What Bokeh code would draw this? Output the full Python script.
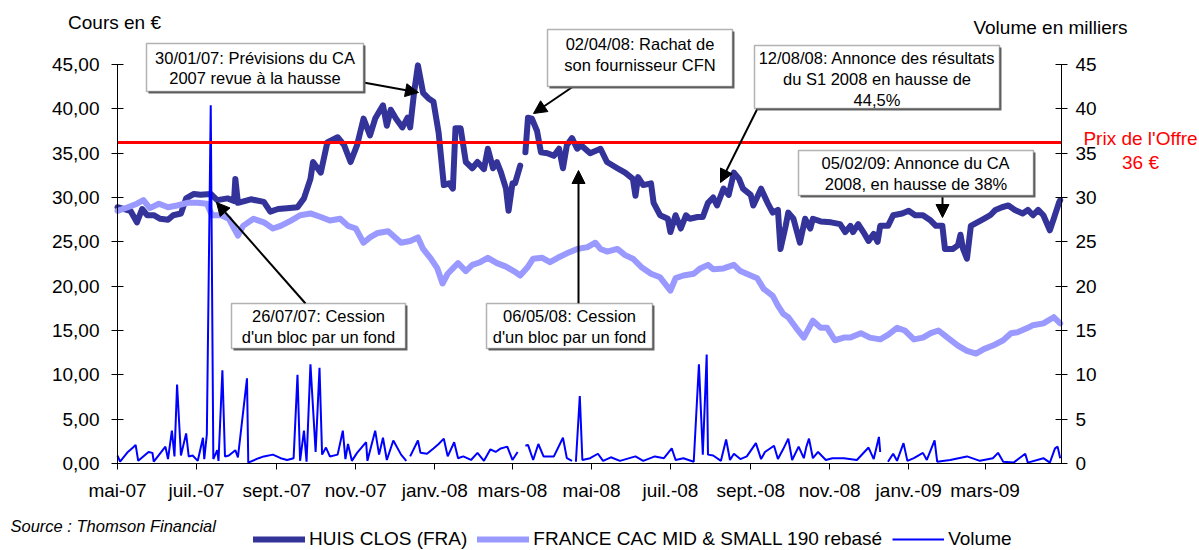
import numpy as np
import pandas as pd
from bokeh.plotting import figure
from bokeh.models import (Range1d, LinearAxis, FixedTicker, Label, BoxAnnotation,
                          Arrow, NormalHead, Legend, LegendItem, ColumnDataSource)
from bokeh.embed import file_html
from bokeh.resources import INLINE

# ---------------- data ----------------
huis_dates = ["2007-05-01","2007-05-11","2007-05-16","2007-05-20","2007-05-24","2007-05-29","2007-06-03","2007-06-09","2007-06-13","2007-06-19",
              "2007-06-23","2007-06-29","2007-07-04","2007-07-12","2007-07-17","2007-07-25","2007-07-30","2007-07-31","2007-08-02","2007-08-12",
              "2007-08-22","2007-08-27","2007-09-02","2007-09-09","2007-09-17","2007-09-22","2007-09-27","2007-09-29","2007-10-05","2007-10-10",
              "2007-10-18","2007-10-23","2007-10-28","2007-11-02","2007-11-07","2007-11-12","2007-11-16","2007-11-22","2007-11-25","2007-11-28",
              "2007-12-02","2007-12-07","2007-12-11","2007-12-13","2007-12-16","2007-12-19","2007-12-23","2007-12-27","2007-12-31","2008-01-04",
              "2008-01-08","2008-01-12","2008-01-15","2008-01-17","2008-01-21","2008-01-25","2008-01-30","2008-02-03","2008-02-08","2008-02-11",
              "2008-02-15","2008-02-18","2008-02-21","2008-02-25","2008-02-27","2008-03-01","2008-03-03","2008-03-07","2008-03-09","2008-03-11",
              "2008-03-13","2008-03-16","2008-03-20","2008-03-23","2008-03-28","2008-04-02","2008-04-06","2008-04-09","2008-04-12","2008-04-16",
              "2008-04-20","2008-04-23","2008-04-30","2008-05-08","2008-05-13","2008-05-21","2008-05-27","2008-06-02","2008-06-04","2008-06-06",
              "2008-06-10","2008-06-16","2008-06-18","2008-06-23","2008-06-29","2008-07-01","2008-07-05","2008-07-09","2008-07-13","2008-07-16",
              "2008-07-22","2008-07-26","2008-07-30","2008-08-03","2008-08-06","2008-08-11","2008-08-15","2008-08-19","2008-08-23","2008-08-26",
              "2008-09-01","2008-09-03","2008-09-09","2008-09-14","2008-09-18","2008-09-22","2008-09-24","2008-09-28","2008-09-30","2008-10-04",
              "2008-10-09","2008-10-13","2008-10-17","2008-10-19","2008-10-25","2008-11-02","2008-11-09","2008-11-13","2008-11-17","2008-11-19",
              "2008-11-23","2008-11-27","2008-12-01","2008-12-05","2008-12-08","2008-12-10","2008-12-16","2008-12-20","2008-12-27","2009-01-01",
              "2009-01-06","2009-01-12","2009-01-18","2009-01-22","2009-01-27","2009-01-29","2009-02-04","2009-02-08","2009-02-10","2009-02-12",
              "2009-02-15","2009-02-18","2009-02-23","2009-02-28","2009-03-05","2009-03-09","2009-03-14","2009-03-19","2009-03-24","2009-03-30",
              "2009-04-03","2009-04-07","2009-04-11","2009-04-15","2009-04-20","2009-04-23","2009-04-27","2009-04-28"]
huis_prices = [28.9,28.5,27.2,28.7,28.0,28.0,27.6,27.5,28.0,28.2,
               29.9,30.4,30.3,30.4,29.7,29.9,29.6,32.1,29.4,29.8,
               29.5,28.4,28.7,28.8,28.9,29.9,32.1,34.0,32.8,36.2,
               36.8,35.9,34.0,35.9,38.9,37.0,38.9,40.4,38.1,39.9,
               38.9,37.9,39.0,37.9,41.8,44.9,41.8,41.2,40.8,37.3,
               31.4,31.6,31.0,37.8,37.8,34.0,33.3,34.0,33.2,35.5,
               33.3,34.0,32.9,31.0,28.5,31.6,31.6,33.6,None,35.1,
               39.0,38.9,37.5,35.1,35.0,34.7,35.5,33.3,35.9,36.7,
               35.5,35.9,35.0,35.5,34.0,33.3,32.8,32.1,30.2,32.3,
               31.4,31.6,29.4,28.0,27.6,26.1,28.0,26.5,28.0,27.6,
               27.8,27.8,29.4,30.0,29.1,31.0,30.3,32.8,32.1,31.0,
               30.3,29.1,31.0,29.4,28.3,28.6,24.2,26.8,28.3,27.6,
               24.9,27.6,26.5,27.6,27.3,27.2,27.0,26.1,26.8,26.1,
               27.0,26.1,25.1,25.9,25.0,26.8,26.8,28.0,28.2,28.5,
               28.0,28.0,27.4,26.8,26.8,24.2,24.2,24.6,25.8,24.2,
               23.1,26.8,27.2,27.6,28.0,28.6,28.9,29.1,28.6,28.2,
               28.6,28.0,28.6,28.0,26.3,27.6,29.4,29.7]

cac_dates = ["2007-05-01","2007-05-09","2007-05-16","2007-05-21","2007-05-26","2007-06-02","2007-06-09","2007-06-16","2007-06-24","2007-07-02",
             "2007-07-09","2007-07-13","2007-07-20","2007-07-26","2007-08-02","2007-08-06","2007-08-14","2007-08-22","2007-08-29","2007-09-04",
             "2007-09-12","2007-09-19","2007-09-27","2007-10-05","2007-10-12","2007-10-20","2007-10-26","2007-11-01","2007-11-07","2007-11-12",
             "2007-11-18","2007-11-26","2007-12-06","2007-12-13","2007-12-19","2007-12-23","2007-12-29","2008-01-03","2008-01-07","2008-01-11",
             "2008-01-15","2008-01-19","2008-01-25","2008-01-30","2008-02-05","2008-02-11","2008-02-18","2008-02-25","2008-03-02","2008-03-07",
             "2008-03-13","2008-03-17","2008-03-24","2008-03-30","2008-04-05","2008-04-12","2008-04-20","2008-04-28","2008-05-04","2008-05-08",
             "2008-05-13","2008-05-21","2008-05-27","2008-06-02","2008-06-09","2008-06-16","2008-06-23","2008-07-01","2008-07-05","2008-07-11",
             "2008-07-19","2008-07-24","2008-07-30","2008-08-03","2008-08-11","2008-08-19","2008-08-24","2008-09-01","2008-09-06","2008-09-11",
             "2008-09-18","2008-09-22","2008-09-26","2008-09-30","2008-10-06","2008-10-12","2008-10-19","2008-10-25","2008-10-30","2008-11-05",
             "2008-11-12","2008-11-17","2008-11-25","2008-12-02","2008-12-10","2008-12-16","2008-12-23","2008-12-29","2009-01-05","2009-01-12",
             "2009-01-18","2009-01-24","2009-01-31","2009-02-08","2009-02-15","2009-02-22","2009-02-28","2009-03-07","2009-03-15","2009-03-21",
             "2009-03-26","2009-04-03","2009-04-07","2009-04-15","2009-04-23","2009-04-28"]
cac_values = [28.5,28.9,29.3,29.7,28.8,29.3,28.9,29.1,29.4,29.4,
              29.3,28.0,28.0,27.6,25.7,26.8,27.6,27.2,26.5,26.8,
              27.4,28.0,28.2,27.8,27.4,27.6,26.8,26.5,24.9,25.5,
              26.0,26.2,24.9,25.1,25.5,24.2,23.1,22.0,20.3,21.4,
              22.0,22.6,21.7,22.4,22.7,23.2,22.6,22.2,21.7,21.2,
              22.2,23.1,23.2,22.7,23.2,23.7,24.2,24.4,24.9,24.2,
              23.9,24.2,23.5,23.1,22.1,21.4,21.0,19.5,20.9,21.2,
              21.4,22.0,22.4,21.9,22.0,22.4,21.7,21.2,20.9,19.7,
              18.9,17.8,16.9,16.5,15.3,14.2,16.1,15.3,15.3,13.9,
              14.2,14.2,14.7,14.2,14.0,14.5,15.3,15.0,14.0,14.2,
              14.7,15.0,14.2,13.3,12.7,12.4,12.9,13.3,13.9,14.7,
              14.8,15.3,15.6,15.8,16.5,15.8]

vol_dates = ["2007-05-01","2007-05-03","2007-05-09","2007-05-13","2007-05-15","2007-05-17","2007-05-25","2007-05-28","2007-05-29","2007-06-07",
             "2007-06-09","2007-06-12","2007-06-14","2007-06-16","2007-06-19","2007-06-23","2007-06-25","2007-06-28","2007-07-02","2007-07-06",
             "2007-07-07","2007-07-09","2007-07-12","2007-07-14","2007-07-17","2007-07-18","2007-07-21","2007-07-23","2007-07-26","2007-07-31",
             "2007-08-02","2007-08-09","2007-08-10","2007-08-18","2007-08-22","2007-08-29","2007-09-04","2007-09-09","2007-09-14","2007-09-17",
             "2007-09-19","2007-09-22","2007-09-24","2007-09-27","2007-10-01","2007-10-04","2007-10-06","2007-10-09","2007-10-12","2007-10-18",
             "2007-10-22","2007-10-24","2007-10-26","2007-10-29","2007-11-02","2007-11-09","2007-11-10","2007-11-16","2007-11-19","2007-11-22",
             "2007-11-25","2007-11-30","2007-12-06","2007-12-10","2007-12-11","2007-12-13","2007-12-19","2007-12-21","2007-12-26","2007-12-31",
             "2008-01-04","2008-01-08","2008-01-11","2008-01-16","2008-01-19","2008-01-23","2008-01-29","2008-02-03","2008-02-08","2008-02-13",
             "2008-02-17","2008-02-21","2008-02-26","2008-03-01","2008-03-05","2008-03-08","2008-03-11","2008-03-13","2008-03-17","2008-03-21",
             "2008-03-25","2008-04-02","2008-04-09","2008-04-12","2008-04-16","2008-04-17","2008-04-19","2008-04-22","2008-04-24","2008-04-30",
             "2008-05-06","2008-05-10","2008-05-16","2008-05-23","2008-06-04","2008-06-10","2008-06-19","2008-06-26","2008-07-02","2008-07-05",
             "2008-07-11","2008-07-19","2008-07-23","2008-07-26","2008-07-29","2008-07-30","2008-08-03","2008-08-09","2008-08-13","2008-08-16",
             "2008-08-19","2008-08-24","2008-08-29","2008-09-05","2008-09-09","2008-09-12","2008-09-19","2008-09-22","2008-09-26","2008-09-30",
             "2008-10-03","2008-10-08","2008-10-12","2008-10-14","2008-10-16","2008-10-19","2008-10-23","2008-10-29","2008-11-03","2008-11-12",
             "2008-11-22","2008-12-01","2008-12-05","2008-12-09","2008-12-10","2008-12-12","2008-12-16","2008-12-20","2008-12-23","2008-12-28",
             "2008-12-31","2009-01-05","2009-01-12","2009-01-15","2009-01-21","2009-01-23","2009-02-02","2009-02-15","2009-02-25","2009-03-07",
             "2009-03-11","2009-03-15","2009-03-23","2009-04-01","2009-04-03","2009-04-15","2009-04-20","2009-04-24","2009-04-26","2009-04-28"]
vol_values = [0.9,0.2,1.3,1.8,2.1,0.3,1.3,1.2,0.2,1.9,
              0.5,3.7,0.8,8.9,0.9,3.4,0.8,0.9,0.3,2.9,
              0.5,3.3,40.4,0.5,1.5,0.3,10.5,0.8,0.9,1.5,
              0.7,9.6,0.1,0.6,0.8,1.0,0.6,0.4,0.6,10.0,
              0.3,3.7,0.2,11.2,1.3,10.8,1.0,1.8,0.8,1.0,
              3.7,0.5,2.2,0.3,1.2,2.4,0.3,3.7,1.0,2.9,
              0.4,2.6,1.0,0.3,None,0.8,2.6,1.2,1.1,1.7,
              2.2,2.8,0.8,2.4,0.6,0.8,0.4,1.2,0.3,1.6,
              1.3,1.7,1.9,0.4,1.3,None,2.0,2.1,0.4,2.2,
              0.8,0.8,2.9,0.6,0.3,None,0.2,7.6,0.4,0.6,
              1.1,0.3,0.7,0.3,0.8,0.3,0.8,0.6,1.7,0.4,
              0.6,0.2,11.2,1.0,12.3,1.0,0.9,0.3,2.7,0.4,
              1.1,0.5,0.8,2.3,0.5,1.3,2.0,0.5,1.6,2.8,
              0.4,1.9,0.6,1.9,2.8,0.6,1.3,0.4,0.6,0.6,
              0.4,1.8,0.5,3.0,1.3,None,0.2,1.1,0.3,2.3,
              0.3,0.6,1.2,0.4,2.6,0.2,0.4,0.8,0.3,0.6,
              1.2,0.2,0.1,1.1,0.1,0.6,0.1,1.7,1.9,0.6]

offer_price = 36.2
x_start, x_end = "2007-05-01", "2009-04-29"
x_tick_dates = ["2007-05-01","2007-07-01","2007-09-01","2007-11-01","2008-01-01","2008-03-01",
                "2008-05-01","2008-07-01","2008-09-01","2008-11-01","2009-01-01","2009-03-01"]
x_tick_labels = ["mai-07","juil.-07","sept.-07","nov.-07","janv.-08","mars-08",
                 "mai-08","juil.-08","sept.-08","nov.-08","janv.-09","mars-09"]
y_ticks = [0,5,10,15,20,25,30,35,40,45]
left_labels = ["0,00","5,00","10,00","15,00","20,00","25,00","30,00","35,00","40,00","45,00"]
right_labels = ["0","5","10","15","20","25","30","35","40","45"]

# ---------------- geometry helpers (page pixels -> data) ----------------
def ms(d):
    return pd.Timestamp(d).value // 10**6

FONT = "Liberation Sans"
W, H = 1199, 550
FL, FR, FT, FB = 117, 1061, 64, 463          # data-area edges on the page (px)
X0, X1 = ms(x_start), ms(x_end)
YMAX = 45.0

def X(px):
    return X0 + (px - FL) / (FR - FL) * (X1 - X0)

def Y(py):
    return (FB - py) / (FB - FT) * YMAX

p = figure(width=W, height=H, x_axis_type="datetime",
           x_range=Range1d(X(0), X(W)), y_range=Range1d(Y(H), Y(0)),
           output_backend="svg", toolbar_location=None)
p.min_border_left = 0
p.min_border_right = 0
p.min_border_top = 0
p.min_border_bottom = 0
p.outline_line_color = None
p.xgrid.visible = False
p.ygrid.visible = False
p.background_fill_color = "white"
p.border_fill_color = "white"

src_h = ColumnDataSource(dict(x=pd.to_datetime(huis_dates), y=np.array(huis_prices, dtype=float)))
src_c = ColumnDataSource(dict(x=pd.to_datetime(cac_dates), y=np.array(cac_values, dtype=float)))
src_v = ColumnDataSource(dict(x=pd.to_datetime(vol_dates), y=np.array(vol_values, dtype=float)))

p.extra_y_ranges = {"vol": Range1d(Y(H), Y(0))}

r_h = p.line("x", "y", source=src_h, line_color="#333399", line_width=6, line_join="round", line_cap="round")
r_c = p.line("x", "y", source=src_c, line_color="#9999FF", line_width=6, line_join="round", line_cap="round")
r_v = p.line("x", "y", source=src_v, line_color="#0000FF", line_width=2, y_range_name="vol")
p.line(x=[X0, X1], y=[offer_price, offer_price], line_color="#FF0000", line_width=3)

# ---------------- axes ----------------
xa = p.xaxis[0]
xa.fixed_location = 0
xa.bounds = (X0, X1)
xa.ticker = FixedTicker(ticks=[ms(d) for d in x_tick_dates])
xa.major_label_overrides = {ms(d): l for d, l in zip(x_tick_dates, x_tick_labels)}
xa.minor_tick_line_color = None
xa.major_tick_in = 0
xa.major_tick_out = 6
xa.major_label_standoff = 10
xa.major_label_text_font = FONT
xa.major_label_text_font_size = "19px"
xa.major_label_text_color = "black"
xa.axis_line_color = "black"
xa.major_tick_line_color = "black"

ya = p.yaxis[0]
ya.fixed_location = X0
ya.bounds = (0, YMAX)
ya.ticker = FixedTicker(ticks=y_ticks)
ya.major_label_overrides = {t: l for t, l in zip(y_ticks, left_labels)}
ya.minor_tick_line_color = None
ya.major_tick_in = 6
ya.major_tick_out = 6
ya.major_label_standoff = 12
ya.major_label_text_font = FONT
ya.major_label_text_font_size = "19px"
ya.major_label_text_color = "black"

ra = LinearAxis(y_range_name="vol", fixed_location=X1, bounds=(0, YMAX),
                ticker=FixedTicker(ticks=y_ticks),
                major_label_overrides={t: l for t, l in zip(y_ticks, right_labels)})
ra.minor_tick_line_color = None
ra.major_tick_in = 6
ra.major_tick_out = 6
ra.major_label_standoff = 8
ra.major_label_text_font = FONT
ra.major_label_text_font_size = "19px"
ra.major_label_text_color = "black"
p.add_layout(ra, "right")

def label(px, py, text, size="19px", color="black", align="center", style="normal"):
    p.add_layout(Label(x=X(px), y=Y(py), text=text, text_font=FONT, text_font_size=size,
                       text_color=color, text_align=align, text_baseline="middle",
                       text_font_style=style))

# axis titles and side texts
label(114, 22, "Cours en €")
label(1050, 27, "Volume en milliers")
label(1140, 138, "Prix de l'Offre", color="#FF0000")
label(1140, 162, "36 €", color="#FF0000")
label(10, 525, "Source : Thomson Financial", size="16.5px", align="left", style="italic")

# ---------------- annotation boxes ----------------
boxes = [
    ((146, 363, 43, 91), ["30/01/07: Prévisions du CA", "2007 revue à la hausse"], [57, 77]),
    ((547, 732, 29, 86), ["02/04/08: Rachat de", "son fournisseur CFN"], [43, 64]),
    ((754, 999, 45, 108), ["12/08/08: Annonce des résultats", "du S1 2008 en hausse de", "44,5%"], [57, 78, 99]),
    ((798, 1033, 150, 195), ["05/02/09: Annonce du CA", "2008, en hausse de 38%"], [162, 183]),
    ((231, 405, 303, 348), ["26/07/07: Cession", "d'un bloc par un fond"], [315, 336]),
    ((486, 652, 303, 348), ["06/05/08: Cession", "d'un bloc par un fond"], [315, 336]),
]
arrows = [(363, 82, 418, 92), (580, 81, 533, 113), (757, 108, 720, 182),
          (942, 195, 942, 217), (305, 303, 216, 202), (578, 303, 578, 170)]

for (x1, y1, x2, y2) in arrows:
    p.add_layout(Arrow(x_start=X(x1), y_start=Y(y1), x_end=X(x2), y_end=Y(y2),
                       line_color="black", line_width=2,
                       end=NormalHead(size=13, fill_color="black", line_color="black", line_width=1)))

for (l, r, t, b), lines, ys in boxes:
    p.add_layout(BoxAnnotation(left=X(l + 2), right=X(r + 2), top=Y(t + 2), bottom=Y(b + 2),
                               fill_color="#666666", fill_alpha=1, line_color=None))
    p.add_layout(BoxAnnotation(left=X(l), right=X(r), top=Y(t), bottom=Y(b),
                               fill_color="white", fill_alpha=1, line_color="black", line_width=1.5))
    for txt, yy in zip(lines, ys):
        label((l + r) / 2, yy, txt, size="16.5px")

# ---------------- legend ----------------
legend = Legend(items=[LegendItem(label="HUIS CLOS (FRA)", renderers=[r_h]),
                       LegendItem(label="FRANCE CAC MID & SMALL 190 rebasé", renderers=[r_c]),
                       LegendItem(label="Volume", renderers=[r_v])],
                orientation="horizontal", location=(253, 0),
                glyph_width=52, glyph_height=20, label_height=20, label_standoff=4, spacing=10,
                padding=0, margin=0, border_line_color=None, background_fill_alpha=0,
                label_text_font=FONT, label_text_font_size="19px", label_text_color="black")
p.add_layout(legend)

open("out.html", "w").write(file_html(p, INLINE))
